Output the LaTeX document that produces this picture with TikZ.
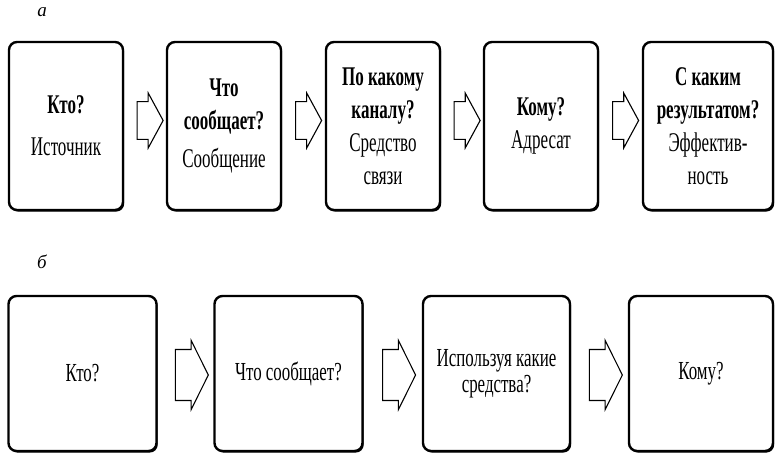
\documentclass[tikz,border=0pt]{standalone}
\usepackage{fontspec}
\setmainfont[FakeStretch=0.63]{Liberation Serif}
\newfontfamily\fontb[FakeStretch=0.65]{Liberation Serif}
\newfontfamily\lblfont{Liberation Serif}
\usetikzlibrary{shapes.arrows,shadows,calc}
\begin{document}
\begin{tikzpicture}[x=1pt,y=-1pt,
  box/.style={draw, line width=2.4pt, rounded corners=8pt, fill=white, align=center, inner sep=0pt,
    drop shadow={shadow xshift=1.2pt, shadow yshift=-1.6pt, fill=black, opacity=1}},
  boxa/.style={box, minimum width=114pt, minimum height=168pt, font=\fontsize{27}{33}\selectfont},
  boxb/.style={box, minimum width=148pt, minimum height=155pt, font=\fontb\fontsize{26}{26}\selectfont},
  arra/.style={single arrow, draw, line width=1.1pt, inner xsep=0pt, inner ysep=15pt,
    minimum height=26pt, minimum width=55pt, single arrow tip angle=123, single arrow head indent=0pt},
  arrb/.style={single arrow, draw, line width=1.1pt, inner xsep=0pt, inner ysep=19.5pt,
    minimum height=33pt, minimum width=69pt, single arrow tip angle=127, single arrow head indent=0pt},
  lbl/.style={font=\lblfont\itshape\fontsize{19}{19}\selectfont}
]
\useasboundingbox (0,0) rectangle (775,455);
\node[lbl] (la) at (42,12) {а};
\node[lbl] (lb) at (42,262) {б};
% row a
\node[boxa] (a1) at (66,126) {\textbf{Кто?}\\[9pt]Источник};
\node[boxa] (a2) at (224,126) {\textbf{Что}\\\textbf{сообщает?}\\[5pt]Сообщение};
\node[boxa] (a3) at (383,126) {\textbf{По какому}\\\textbf{каналу?}\\Средство\\связи};
\node[boxa] (a4) at (541,126) {\textbf{Кому?}\\Адресат};
\node[boxa, minimum width=130pt] (a5) at (708,126) {\textbf{С каким}\\\textbf{результатом?}\\Эффектив-\\ность};
\foreach \p/\q in {a1/a2,a2/a3,a3/a4,a4/a5}
  \node[arra, yshift=5.5pt] (arr\p) at ($(\p.east)!0.5!(\q.west)$) {};
% row b
\node[boxb] (b1) at (82.5,373.5) {Кто?};
\node[boxb] (b2) at (288.5,373.5) {Что сообщает?};
\node[boxb, minimum width=147pt] (b3) at (496.5,373.5) {Используя какие\\средства?};
\node[boxb, minimum width=144pt] (b4) at (701,373.5) {Кому?};
\foreach \p/\q in {b1/b2,b2/b3,b3/b4}
  \node[arrb, yshift=-1.5pt] (arr\p) at ($(\p.east)!0.5!(\q.west)$) {};
\end{tikzpicture}
\end{document}
